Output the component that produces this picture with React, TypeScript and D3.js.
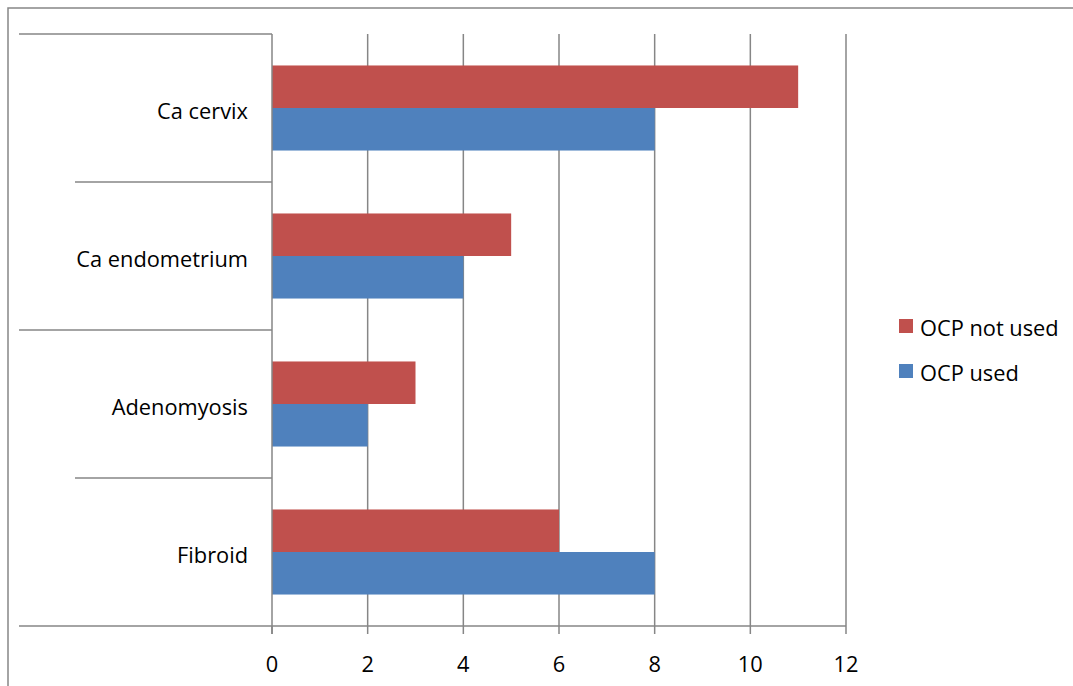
import React from "react";
import * as d3 from "d3";

const categories = ["Ca cervix", "Ca endometrium", "Adenomyosis", "Fibroid"];
const seriesNames = ["OCP not used", "OCP used"];
const ocpNotUsed = [11, 5, 3, 6];
const ocpUsed = [8, 4, 2, 8];
const xTicks = [0, 2, 4, 6, 8, 10, 12];
const colors = ["#C0504D", "#4F81BD"];

const W = 1073;
const H = 686;
const FONT = "'Open Sans', 'Noto Sans', sans-serif";
const FS = 21.8;

export default function App() {
  const left = 272, right = 846, top = 34, bottom = 626;
  const x = d3.scaleLinear().domain([0, 12]).range([left, right]);
  const y = d3.scaleBand<string>().domain(categories).range([top, bottom]);
  const inner = d3.scaleBand<string>().domain(seriesNames).range([0, y.bandwidth()]).paddingOuter(0.74).paddingInner(0);
  const values = [ocpNotUsed, ocpUsed];
  const grid = "#868686";

  return (
    <svg width={W} height={H} style={{ position: "absolute", left: 0, top: 0 }} fontFamily={FONT}>
      <rect x={0} y={0} width={W} height={H} fill="#fff" />
      <rect x={8} y={8} width={W + 20} height={H + 20} fill="none" stroke="#868686" strokeWidth={1.5} />
      {xTicks.slice(1).map((t) => (
        <line key={"g" + t} x1={x(t)} x2={x(t)} y1={top} y2={bottom} stroke={grid} strokeWidth={1.5} />
      ))}
      {categories.map((c, i) => (
        <g key={c}>
          {values.map((vals, s) => (
            <rect
              key={s}
              x={x(0)}
              y={y(c)! + inner(seriesNames[s])!}
              width={x(vals[i]) - x(0)}
              height={inner.bandwidth()}
              fill={colors[s]}
            />
          ))}
          <text
            x={248}
            y={y(c)! + y.bandwidth() / 2 + 2}
            textAnchor="end"
            dominantBaseline="central"
            fontSize={FS}
            fill="#000"
          >
            {c}
          </text>
        </g>
      ))}
      {categories.concat(["__end"]).map((c, i) => {
        const yy = i < categories.length ? y(c)! : bottom;
        return (
          <line key={"s" + i} x1={i % 2 === 0 ? 19 : 75} x2={left} y1={yy} y2={yy} stroke={grid} strokeWidth={1.5} />
        );
      })}
      <line x1={left} x2={right} y1={bottom} y2={bottom} stroke={grid} strokeWidth={1.5} />
      <line x1={left} x2={left} y1={top} y2={bottom + 8} stroke={grid} strokeWidth={1.5} />
      {xTicks.map((t) => (
        <g key={"t" + t}>
          <line x1={x(t)} x2={x(t)} y1={bottom} y2={bottom + 8} stroke={grid} strokeWidth={1.5} />
          <text x={x(t)} y={663} textAnchor="middle" dominantBaseline="central" fontSize={FS} fill="#000">
            {t}
          </text>
        </g>
      ))}
      {seriesNames.map((n, s) => (
        <g key={n} transform={`translate(899, ${326 + s * 45})`}>
          <rect x={0} y={-7} width={14} height={14} fill={colors[s]} />
          <text x={21} y={1} dominantBaseline="central" fontSize={FS} fill="#000">
            {n}
          </text>
        </g>
      ))}
    </svg>
  );
}
